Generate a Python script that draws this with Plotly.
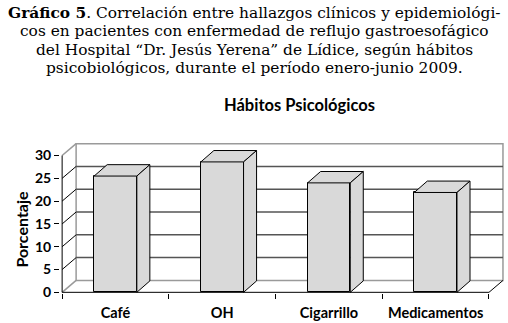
import plotly.graph_objects as go

categories = ["Café", "OH", "Cigarrillo", "Medicamentos"]
values = [25.5, 28.6, 24.0, 21.9]
y_ticks = [0, 5, 10, 15, 20, 25, 30]
title_text = "Hábitos Psicológicos"
y_title = "Porcentaje"
caption_lines = [
    "<b>Gráfico 5</b>. Correlación entre hallazgos clínicos y epidemiológi-",
    "cos en pacientes con enfermedad de reflujo gastroesofágico",
    "del Hospital “Dr. Jesús Yerena” de Lídice, según hábitos",
    "psicobiológicos, durante el período enero-junio 2009.",
]

W, H = 508, 323
DX, DY = 0.131, 2.61      # wall depth (data units)
BDX, BDY = 0.122, 2.5     # bar depth
BW = 0.40                 # bar width
BAR_FILL = "#d9d9d9"
n = len(categories)
xmax = n
ymax = y_ticks[-1]

L, R, T, B = 60, 3, 143.4, 29.6
plot_h = H - T - B


def py(pix):
    return (H - B - pix) / plot_h


def px(pix):
    return (pix - L) / (W - L - R)


fig = go.Figure()

centers = [i + 0.5 for i in range(n)]
fig.add_trace(go.Bar(
    x=centers, y=values, width=BW,
    marker=dict(color=BAR_FILL, line=dict(color="black", width=1)),
    showlegend=False, hoverinfo="skip",
))

for c, v in zip(centers, values):
    x0, x1 = c - BW / 2, c + BW / 2
    # top face
    fig.add_trace(go.Scatter(
        x=[x0, x1, x1 + BDX, x0 + BDX, x0],
        y=[v, v, v + BDY, v + BDY, v],
        fill="toself", fillcolor=BAR_FILL, mode="lines",
        line=dict(color="black", width=1), showlegend=False, hoverinfo="skip",
    ))
    # side face
    fig.add_trace(go.Scatter(
        x=[x1, x1 + BDX, x1 + BDX, x1, x1],
        y=[0, BDY, v + BDY, v, 0],
        fill="toself", fillcolor=BAR_FILL, mode="lines",
        line=dict(color="black", width=1), showlegend=False, hoverinfo="skip",
    ))

shapes = []
gray = "#9a9a9a"
grid = "#555555"
# back wall
shapes.append(dict(type="rect", xref="x", yref="y", x0=DX, y0=DY, x1=xmax + DX, y1=ymax + DY,
                   line=dict(color=gray, width=1.5), fillcolor="white", layer="below"))
for v in y_ticks[1:-1]:
    shapes.append(dict(type="line", xref="x", yref="y", x0=DX, y0=v + DY, x1=xmax + DX, y1=v + DY,
                       line=dict(color=grid, width=1.5), layer="below"))
    shapes.append(dict(type="line", xref="x", yref="y", x0=0, y0=v, x1=DX, y1=v + DY,
                       line=dict(color="black", width=1), layer="below"))
# top & bottom side diagonals
shapes.append(dict(type="line", xref="x", yref="y", x0=0, y0=ymax, x1=DX, y1=ymax + DY,
                   line=dict(color=gray, width=1.5), layer="below"))
shapes.append(dict(type="line", xref="x", yref="y", x0=0, y0=0, x1=DX, y1=DY,
                   line=dict(color=gray, width=1.5), layer="below"))
# floor right edge
shapes.append(dict(type="line", xref="x", yref="y", x0=xmax, y0=0, x1=xmax + DX, y1=DY,
                   line=dict(color="black", width=1), layer="below"))
# front axes
shapes.append(dict(type="line", xref="x", yref="y", x0=0, y0=0, x1=0, y1=ymax,
                   line=dict(color="black", width=1), layer="above"))
shapes.append(dict(type="line", xref="x", yref="y", x0=0, y0=0, x1=xmax, y1=0,
                   line=dict(color="black", width=1), layer="above"))

annotations = []
cap_y = [13, 31.5, 50, 68.5]
for line, yy in zip(caption_lines, cap_y):
    annotations.append(dict(text=line, xref="paper", yref="paper", x=px(254), y=py(yy),
                            xanchor="center", yanchor="middle", showarrow=False,
                            font=dict(family="DejaVu Serif", size=15.4, color="black")))
annotations.append(dict(text=f"<b>{title_text}</b>", xref="paper", yref="paper", x=px(299), y=py(105),
                        xanchor="center", yanchor="middle", showarrow=False,
                        font=dict(family="Lato", size=16.5, color="black")))
annotations.append(dict(text=f"<b>{y_title}</b>", xref="paper", yref="paper", x=px(22), y=py(230),
                        xanchor="center", yanchor="middle", showarrow=False, textangle=-90,
                        font=dict(family="Lato", size=16, color="black")))

fig.update_layout(
    width=W, height=H,
    margin=dict(l=L, r=R, t=T, b=B),
    paper_bgcolor="white", plot_bgcolor="rgba(0,0,0,0)",
    shapes=shapes, annotations=annotations,
    bargap=0,
    xaxis=dict(range=[-0.02, xmax + 0.15], tickmode="array", tickvals=centers,
               ticktext=[f"<b>{c}</b>" for c in categories], ticks="", showgrid=False,
               zeroline=False, showline=False, ticklabelstandoff=9,
               tickfont=dict(family="Lato", size=14.5, color="black"),
               minor=dict(tickmode="array", tickvals=list(range(n + 1)), ticks="outside",
                          ticklen=5, tickcolor="black", tickwidth=1, showgrid=False)),
    yaxis=dict(range=[-0.15, 32.75], tickmode="array", tickvals=y_ticks,
               ticktext=[f"<b>{t}</b>" for t in y_ticks],
               ticks="outside", ticklen=5, tickcolor="black", showgrid=False,
               zeroline=False, showline=False,
               tickfont=dict(family="Lato", size=14, color="black")),
)

fig.write_html("out.html", config={"displayModeBar": False},
               post_script="document.body.style.margin='0';document.body.style.overflow='hidden';")
